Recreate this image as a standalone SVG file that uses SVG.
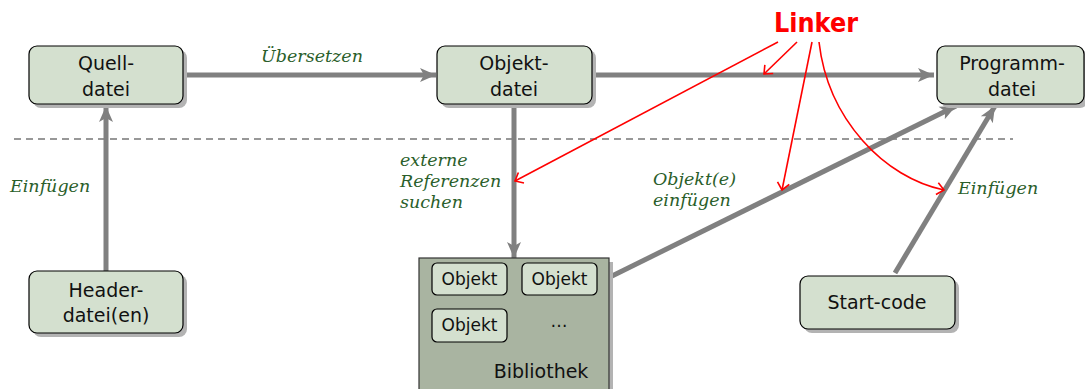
<svg xmlns="http://www.w3.org/2000/svg" width="1085" height="389" viewBox="0 0 1085 389">
<style>
.node{fill:#d4e0cf;stroke:#000;stroke-width:1.2}
.shadow{fill:#b3b3b3}
.nt{font-family:"DejaVu Sans","Noto Sans",sans-serif;font-size:19px;fill:#111;text-anchor:middle}
.st{font-family:"DejaVu Sans","Noto Sans",sans-serif;font-size:17px;fill:#111;text-anchor:middle}
.lbl{font-family:"DejaVu Serif","Liberation Serif",serif;font-style:italic;font-size:17.5px;fill:#2a5e2a}
.conn{stroke:#808080;stroke-width:5;fill:none}
.red{stroke:#ff0000;stroke-width:1.6;fill:none}
</style>
<defs>
<marker id="ga" markerUnits="userSpaceOnUse" markerWidth="20" markerHeight="16" refX="16" refY="8" orient="auto">
<path d="M0,1 L16,8 L0,15 L4,8 z" fill="#808080"/>
</marker>
<marker id="ra" markerUnits="userSpaceOnUse" markerWidth="12" markerHeight="14" refX="9" refY="7" orient="auto">
<path d="M2,1 L9,7 L2,13" fill="none" stroke="#ff0000" stroke-width="1.6"/>
</marker>
</defs>
<line x1="14" y1="139" x2="1013" y2="139" stroke="#777" stroke-width="1.5" stroke-dasharray="7,5"/>
<g id="connectors">
<line class="conn" x1="183" y1="75" x2="436" y2="75" marker-end="url(#ga)"/>
<line class="conn" x1="592" y1="75" x2="934" y2="75" marker-end="url(#ga)"/>
<line class="conn" x1="106" y1="271" x2="106" y2="106" marker-end="url(#ga)"/>
<line class="conn" x1="514" y1="104" x2="514" y2="258" marker-end="url(#ga)"/>
<line class="conn" x1="610" y1="277" x2="956" y2="106" marker-end="url(#ga)"/>
<line class="conn" x1="895" y1="273" x2="995" y2="106" marker-end="url(#ga)"/>
<text class="lbl" x="312" y="62" text-anchor="middle">Übersetzen</text>
<text class="lbl" x="10" y="192">Einfügen</text>
<text class="lbl" x="400" y="166">externe</text>
<text class="lbl" x="400" y="187">Referenzen</text>
<text class="lbl" x="400" y="208">suchen</text>
<text class="lbl" x="653" y="185">Objekt(e)</text>
<text class="lbl" x="653" y="206">einfügen</text>
<text class="lbl" x="958" y="194">Einfügen</text>
</g>
<g id="linker">
<text x="816" y="32" text-anchor="middle" textLength="84" lengthAdjust="spacingAndGlyphs" font-family="'Comic Sans MS','DejaVu Sans',sans-serif" font-size="26" font-weight="bold" fill="#ff0000">Linker</text>
<line class="red" x1="778" y1="42" x2="515" y2="181" marker-end="url(#ra)"/>
<line class="red" x1="797" y1="42" x2="764" y2="74" marker-end="url(#ra)"/>
<line class="red" x1="812" y1="42" x2="782" y2="190" marker-end="url(#ra)"/>
<path class="red" d="M819,42 C828,120 885,178 944,190" marker-end="url(#ra)"/>
</g>
<g id="quelldatei">
<rect class="shadow" x="33" y="50" width="154" height="58" rx="8"/>
<rect class="node" x="29" y="46" width="154" height="58" rx="8"/>
<text class="nt" x="106" y="70">Quell-</text>
<text class="nt" x="106" y="96">datei</text>
</g>
<g id="objektdatei">
<rect class="shadow" x="441" y="50" width="155" height="58" rx="8"/>
<rect class="node" x="437" y="46" width="155" height="58" rx="8"/>
<text class="nt" x="514" y="70">Objekt-</text>
<text class="nt" x="514" y="96">datei</text>
</g>
<g id="programmdatei">
<rect class="shadow" x="941" y="50" width="147" height="58" rx="8"/>
<rect class="node" x="937" y="46" width="147" height="58" rx="8"/>
<text class="nt" x="1012" y="70">Programm-</text>
<text class="nt" x="1012" y="96">datei</text>
</g>
<g id="headerdatei">
<rect class="shadow" x="33" y="275" width="154" height="62" rx="8"/>
<rect class="node" x="29" y="271" width="154" height="62" rx="8"/>
<text class="nt" x="106" y="297">Header-</text>
<text class="nt" x="106" y="322">datei(en)</text>
</g>
<g id="startcode">
<rect class="shadow" x="804" y="280" width="155" height="53" rx="8"/>
<rect class="node" x="800" y="276" width="155" height="53" rx="8"/>
<text class="nt" x="877" y="309">Start-code</text>
</g>
<g id="bibliothek">
<rect class="shadow" x="423" y="262" width="190" height="140"/>
<rect x="419" y="258" width="190" height="140" fill="#a9b4a1" stroke="#333" stroke-width="1.2"/>
<rect class="node" x="432" y="263" width="75" height="32" rx="5"/>
<text class="st" x="469.5" y="285">Objekt</text>
<rect class="node" x="522" y="263" width="75" height="32" rx="5"/>
<text class="st" x="559.5" y="285">Objekt</text>
<rect class="node" x="432" y="309" width="75" height="33" rx="5"/>
<text class="st" x="469.5" y="331">Objekt</text>
<text class="st" x="559" y="327">…</text>
<text class="nt" x="541" y="378">Bibliothek</text>
</g>
</svg>
